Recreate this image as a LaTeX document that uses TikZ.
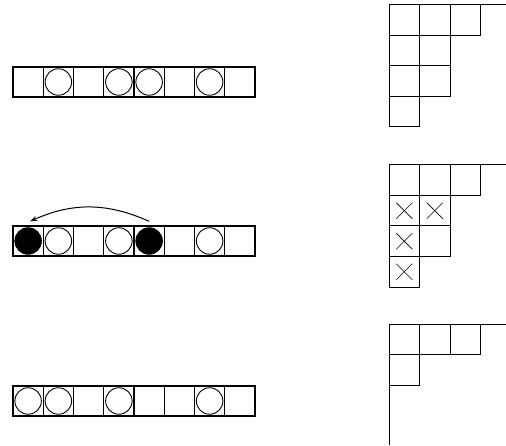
\documentclass[tikz,border=0pt]{standalone}
\usetikzlibrary{arrows.meta}
\begin{document}
\begin{tikzpicture}[x=1pt,y=1pt,
  cellbox/.style={draw, line width=1.2pt, rectangle, minimum width=30.25pt, minimum height=30pt, inner sep=0pt, outer sep=0pt},
  ycell/.style={draw, line width=1pt, rectangle, minimum width=30.5pt, minimum height=30.5pt, inner sep=0pt, outer sep=0pt},
  ocirc/.style={draw, line width=0.9pt, circle, minimum size=26.5pt, inner sep=0pt},
  fcirc/.style={ocirc, fill=black},
  xmark/.style={line width=0.7pt},
  edge/.style={line width=1pt}]
\useasboundingbox (0,0) rectangle (506,445);
% strips
\foreach \r/\yc in {1/363,2/204,3/44} {
  \foreach \i in {1,...,8} {
    \node[cellbox] (s\r-\i) at ({13+(\i-0.5)*30.25},\yc) {};
  }
}
% row 1 circles
\foreach \i in {2,4,5,7} { \node[ocirc] (a\i) at (s1-\i) {}; }
% row 2 circles
\node[fcirc] (b1) at (s2-1) {};
\node[ocirc] (b2) at (s2-2) {};
\node[ocirc] (b4) at (s2-4) {};
\node[fcirc] (b5) at (s2-5) {};
\node[ocirc] (b7) at (s2-7) {};
\draw[edge,-{Stealth[length=7pt,width=5pt]}] ([yshift=6pt]b5.north) to[bend right=24] ([xshift=2pt,yshift=6pt]b1.north);
% row 3 circles
\foreach \i in {1,2,4,7} { \node[ocirc] (c\i) at (s3-\i) {}; }

% Young diagrams
% diagram 1: rows 3,2,2,1
\foreach \c in {1,2,3} \node[ycell] (p1-1-\c) at ({389+(\c-0.5)*30.5},{440-15.25}) {};
\foreach \c in {1,2} \node[ycell] (p1-2-\c) at ({389+(\c-0.5)*30.5},{440-45.75}) {};
\foreach \c in {1,2} \node[ycell] (p1-3-\c) at ({389+(\c-0.5)*30.5},{440-76.25}) {};
\node[ycell] (p1-4-1) at ({389+15.25},{440-106.75}) {};
\coordinate (e1) at (506,440);
\draw[edge] (p1-1-3.north east) -- (e1);

% diagram 2: rows 3,2,2,1 with crosses
\foreach \c in {1,2,3} \node[ycell] (p2-1-\c) at ({389+(\c-0.5)*30.5},{280-15.25}) {};
\foreach \c in {1,2} \node[ycell] (p2-2-\c) at ({389+(\c-0.5)*30.5},{280-45.75}) {};
\foreach \c in {1,2} \node[ycell] (p2-3-\c) at ({389+(\c-0.5)*30.5},{280-76.25}) {};
\node[ycell] (p2-4-1) at ({389+15.25},{280-106.75}) {};
\coordinate (e2) at (506,280);
\draw[edge] (p2-1-3.north east) -- (e2);
\foreach \n in {p2-2-1,p2-2-2,p2-3-1,p2-4-1} {
  \draw[xmark] ([shift={(-8pt,-8pt)}]\n.center) -- ([shift={(8pt,8pt)}]\n.center);
  \draw[xmark] ([shift={(-8pt,8pt)}]\n.center) -- ([shift={(8pt,-8pt)}]\n.center);
}

% diagram 3: rows 3,1
\foreach \c in {1,2,3} \node[ycell] (p3-1-\c) at ({389+(\c-0.5)*30.5},{121-15.25}) {};
\node[ycell] (p3-2-1) at ({389+15.25},{121-45.75}) {};
\coordinate (e3) at (506,121);
\coordinate (f3) at (389,0);
\draw[edge] (p3-1-3.north east) -- (e3);
\draw[edge] (p3-2-1.south west) -- (f3);
\end{tikzpicture}
\end{document}
